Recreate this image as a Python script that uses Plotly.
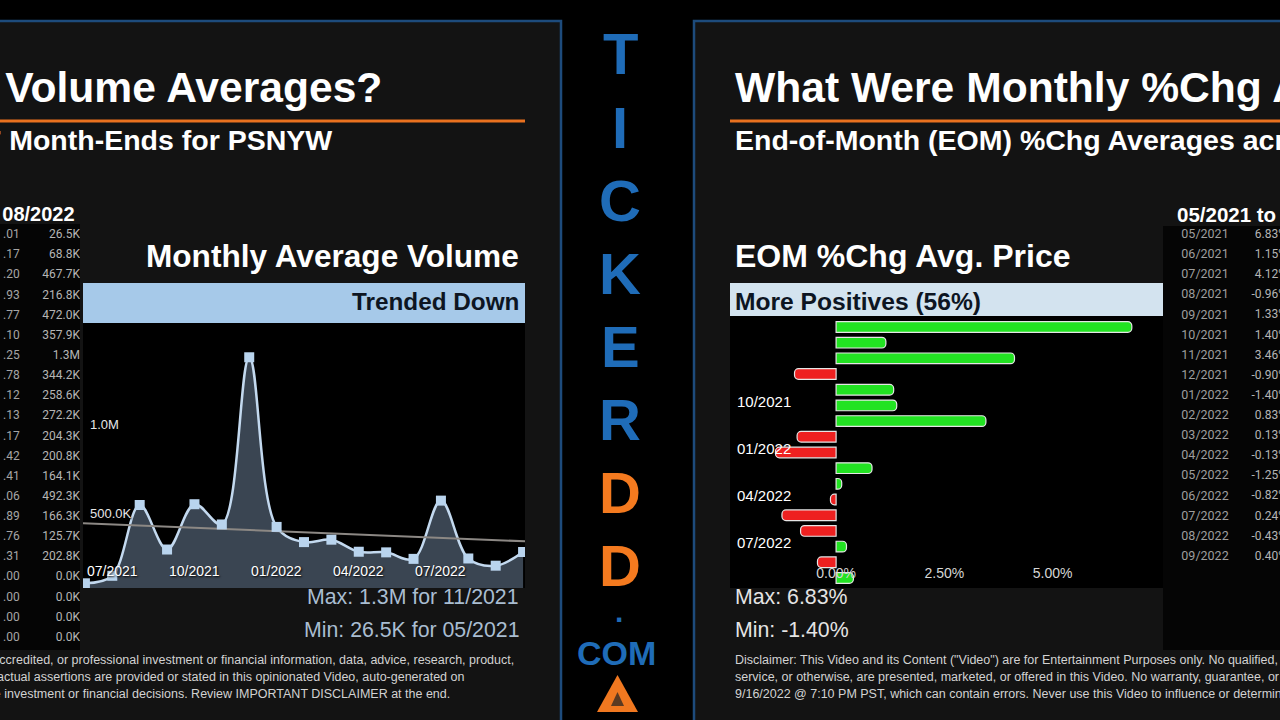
import numpy as np
import plotly.graph_objects as go

W, H = 1280, 720

# %% Daten
vol_months = ["05/2021", "06/2021", "07/2021", "08/2021", "09/2021", "10/2021", "11/2021",
              "12/2021", "01/2022", "02/2022", "03/2022", "04/2022", "05/2022", "06/2022",
              "07/2022", "08/2022", "09/2022"]
avg_volume = [26500, 68800, 467700, 216800, 472000, 357900, 1300000, 344200, 258600,
              272200, 204300, 200800, 164100, 492300, 166300, 125700, 202800]
vol_tick_idx = [1, 4, 7, 10, 13]
vol_tick_text = ["07/2021", "10/2021", "01/2022", "04/2022", "07/2022"]
vol_ytick_vals = [500000, 1000000]
vol_ytick_text = ["500.0K", "1.0M"]

pct_months = ["05/2021", "06/2021", "07/2021", "08/2021", "09/2021", "10/2021", "11/2021",
              "12/2021", "01/2022", "02/2022", "03/2022", "04/2022", "05/2022", "06/2022",
              "07/2022", "08/2022", "09/2022"]
pct_chg = [6.83, 1.15, 4.12, -0.96, 1.33, 1.40, 3.46, -0.90, -1.40, 0.83, 0.13, -0.13,
           -1.25, -0.82, 0.24, -0.43, 0.40]
pct_tick_months = ["10/2021", "01/2022", "04/2022", "07/2022"]
pct_xtick_vals = [0, 2.5, 5]
pct_xtick_text = ["0.00%", "2.50%", "5.00%"]

# linke Tabelle (abgeschnitten am Bildrand)
left_col1 = [".01", ".17", ".20", ".93", ".77", ".10", ".25", ".78", ".12", ".13", ".17",
             ".42", ".41", ".06", ".89", ".76", ".31", ".00", ".00", ".00", ".00"]
left_col2 = ["26.5K", "68.8K", "467.7K", "216.8K", "472.0K", "357.9K", "1.3M", "344.2K",
             "258.6K", "272.2K", "204.3K", "200.8K", "164.1K", "492.3K", "166.3K", "125.7K",
             "202.8K", "0.0K", "0.0K", "0.0K", "0.0K"]
right_col2 = ["%.2f%%" % v for v in pct_chg]

logo_letters = ["T", "I", "C", "K", "E", "R", "D", "D"]
logo_colors = ["#1f6cb8"] * 6 + ["#f47a1f"] * 2

disclaimer = [
    "Disclaimer: This Video and its Content (\"Video\") are for Entertainment Purposes only. No qualified, accredited, or professional investment or financial information, data, advice, research, product,",
    "service, or otherwise, are presented, marketed, or offered in this Video. No warranty, guarantee, or factual assertions are provided or stated in this opinionated Video, auto-generated on",
    "9/16/2022 @ 7:10 PM PST, which can contain errors. Never use this Video to influence or determine investment or financial decisions. Review IMPORTANT DISCLAIMER at the end.",
]


def px(x):
    return x / W


def py(y):
    return 1 - y / H


def fmt_vol(v):
    if v >= 1e6:
        return "%.1fM" % (v / 1e6)
    return "%.1fK" % (v / 1e3)


FONT = "Liberation Sans, Arial, sans-serif"
BLUE_LINE = "#1d4b7c"
ORANGE = "#e9711f"

fig = go.Figure()

# %% linkes Diagramm: Monthly Average Volume
x_idx = list(range(len(avg_volume)))
trend = np.polyval(np.polyfit(x_idx, avg_volume, 1), [-0.2, len(avg_volume) - 0.8])

fig.add_trace(go.Scatter(x=x_idx, y=avg_volume, mode="lines", line=dict(shape="spline", smoothing=1, color="#c3d9ef", width=2.5),
                         fill="tozeroy", fillcolor="#3a4552", xaxis="x", yaxis="y", showlegend=False))
fig.add_trace(go.Scatter(x=[-0.2, len(avg_volume) - 0.8], y=trend, mode="lines", line=dict(color="#8c8884", width=2),
                         xaxis="x", yaxis="y", showlegend=False))
fig.add_trace(go.Scatter(x=x_idx, y=avg_volume, mode="markers", marker=dict(symbol="square", size=10, color="#b9d4ee"),
                         xaxis="x", yaxis="y", showlegend=False))

# %% rechtes Diagramm: EOM %Chg
bar_colors = ["#22e322" if v >= 0 else "#ee2020" for v in pct_chg]
fig.add_trace(go.Bar(x=pct_chg, y=pct_months, orientation="h", marker=dict(color=bar_colors, line=dict(color="#e6e6e6", width=1.2)),
                     xaxis="x2", yaxis="y2", showlegend=False))

# %% Tabellen
row_idx = list(range(len(left_col2)))
tab_font = dict(family="Roboto, sans-serif", size=12, color="#b5b5b5")
fig.add_trace(go.Scatter(x=[3] * len(left_col1), y=row_idx, text=left_col1, mode="text", textposition="middle right",
                         textfont=dict(family="Roboto, sans-serif", size=12, color="#a5a5a5"), xaxis="x3", yaxis="y3", showlegend=False))
fig.add_trace(go.Scatter(x=[80] * len(left_col2), y=row_idx, text=left_col2, mode="text", textposition="middle left",
                         textfont=tab_font, xaxis="x3", yaxis="y3", showlegend=False))

r_idx = list(range(len(pct_months)))
fig.add_trace(go.Scatter(x=[42] * len(pct_months), y=r_idx, text=pct_months, mode="text", textposition="middle center",
                         textfont=dict(family="Roboto, sans-serif", size=12.5, color="#9e9e9e"), xaxis="x4", yaxis="y4", showlegend=False))
fig.add_trace(go.Scatter(x=[124] * len(right_col2), y=r_idx, text=right_col2, mode="text", textposition="middle left",
                         textfont=tab_font, xaxis="x4", yaxis="y4", showlegend=False))

# %% Hintergruende / Rahmen
shapes = [
    dict(type="rect", xref="paper", yref="paper", x0=px(-5), x1=px(561), y0=py(725), y1=py(21),
         fillcolor="#131313", line=dict(color=BLUE_LINE, width=2.5), layer="below"),
    dict(type="rect", xref="paper", yref="paper", x0=px(694), x1=px(1290), y0=py(725), y1=py(21),
         fillcolor="#131313", line=dict(color=BLUE_LINE, width=2.5), layer="below"),
    dict(type="rect", xref="paper", yref="paper", x0=px(0), x1=px(80), y0=py(650), y1=py(224),
         fillcolor="#050505", line_width=0, layer="below"),
    dict(type="rect", xref="paper", yref="paper", x0=px(1163), x1=px(1280), y0=py(650), y1=py(226),
         fillcolor="#050505", line_width=0, layer="below"),
    dict(type="rect", xref="paper", yref="paper", x0=px(83), x1=px(525), y0=py(588), y1=py(323),
         fillcolor="#000000", line_width=0, layer="below"),
    dict(type="rect", xref="paper", yref="paper", x0=px(730), x1=px(1163), y0=py(588), y1=py(316),
         fillcolor="#000000", line_width=0, layer="below"),
    # Banner
    dict(type="rect", xref="paper", yref="paper", x0=px(83), x1=px(525), y0=py(323), y1=py(283),
         fillcolor="#a6c9e9", line_width=0, layer="below"),
    dict(type="rect", xref="paper", yref="paper", x0=px(730), x1=px(1163), y0=py(316), y1=py(283),
         fillcolor="#d3e3ef", line_width=0, layer="below"),
    # orange Linien
    dict(type="line", xref="paper", yref="paper", x0=px(0), x1=px(525), y0=py(121), y1=py(121),
         line=dict(color=ORANGE, width=3)),
    dict(type="line", xref="paper", yref="paper", x0=px(730), x1=px(1285), y0=py(121), y1=py(121),
         line=dict(color=ORANGE, width=3)),
    # Logo Dreieck
    dict(type="path", xref="paper", yref="paper",
         path="M %f %f L %f %f L %f %f Z" % (px(597), py(712), px(638), py(712), px(617.5), py(675)),
         fillcolor="#f07820", line_width=0),
    dict(type="path", xref="paper", yref="paper",
         path="M %f %f L %f %f L %f %f Z" % (px(611), py(706), px(624), py(706), px(617.5), py(692)),
         fillcolor="#5a3a22", line_width=0),
]

# %% Texte
ann = []


def txt(x, y, text, size, color="white", anchor="left", bold=False, family=FONT):
    ann.append(dict(xref="paper", yref="paper", x=px(x), y=py(y), xanchor=anchor, yanchor="middle",
                    text="<b>%s</b>" % text if bold else text, showarrow=False,
                    font=dict(family=family, size=size, color=color)))


# linke Folie
txt(384, 87, "What Were Monthly Volume Averages?", 42.6, anchor="right", bold=True)
txt(334, 140, "End-of-Month (EOM) Volume Averages across 17 Month-Ends for PSNYW", 28.5, anchor="right", bold=True)
txt(77, 214, "05/2021 to 08/2022", 20, anchor="right", bold=True)
txt(521, 256, "Monthly Average Volume", 31.6, anchor="right", bold=True)
txt(521, 301, "Trended Down", 24.3, color="#0d1522", anchor="right", bold=True)
imax = int(np.argmax(avg_volume))
imin = int(np.argmin(avg_volume))
txt(521, 597, "Max: %s for %s" % (fmt_vol(avg_volume[imax]), vol_months[imax]), 21.3, color="#a9bdd1", anchor="right")
txt(521, 630, "Min: %s for %s" % (fmt_vol(avg_volume[imin]), vol_months[imin]), 21.3, color="#a9bdd1", anchor="right")
left_ends = [516, 466, 452]
for i, line in enumerate(disclaimer):
    txt(left_ends[i], 660 + 17 * i, line, 12.5, color="#d2d2d2", anchor="right")

# x-Achsenbeschriftung links (im Diagramm)
for t, lab in zip(vol_tick_idx, vol_tick_text):
    ann.append(dict(xref="x", yref="paper", x=t, y=py(571), xanchor="center", yanchor="middle", text=lab,
                    showarrow=False, font=dict(family=FONT, size=14, color="white", shadow="1px 1px 2px black")))

# rechte Folie
txt(733, 87, "What Were Monthly %Chg Averages?", 42.6, bold=True)
txt(733, 140, "End-of-Month (EOM) %Chg Averages across 17 Month-Ends for PSNYW", 28.5, bold=True)
txt(1175, 214, "05/2021 to 09/2022", 20.5, bold=True)
txt(733, 256, "EOM %Chg Avg. Price", 32, bold=True)
txt(733, 301, "More Positives (56%)", 24.6, color="#0d1522", bold=True)
txt(733, 597, "Max: %.2f%%" % max(pct_chg), 21.3, color="#e4e4e4")
txt(733, 630, "Min: %.2f%%" % min(pct_chg), 21.3, color="#e4e4e4")
for i, line in enumerate(disclaimer):
    txt(733, 660 + 17 * i, line, 12.5, color="#d2d2d2")

# TICKERDD.COM
for i, (ch, col) in enumerate(zip(logo_letters, logo_colors)):
    txt(620, 54 + 73 * i, ch, 58, color=col, anchor="center", bold=True)
txt(619, 611, ".", 30, color="#1f6cb8", anchor="center", bold=True)
txt(616, 653, "COM", 34, color="#1f6cb8", anchor="center", bold=True)

# %% Layout
fig.update_layout(
    width=W, height=H, margin=dict(l=0, r=0, t=0, b=0),
    paper_bgcolor="#000000", plot_bgcolor="rgba(0,0,0,0)",
    shapes=shapes, annotations=ann, bargap=0.32, barcornerradius=4,
    xaxis=dict(domain=[px(83), px(525)], anchor="y", range=[-0.07, len(avg_volume) - 0.93], showgrid=False, zeroline=False,
               showticklabels=False, ticks=""),
    yaxis=dict(domain=[py(588), py(323)], anchor="x", range=[0, 1.493e6], showgrid=False, zeroline=False,
               tickmode="array", tickvals=vol_ytick_vals, ticktext=vol_ytick_text, ticklabelposition="inside",
               ticklabelshift=14, ticklabelstandoff=4, ticks="",
               tickfont=dict(family=FONT, size=13, color="#e6e6e6", shadow="1px 1px 2px black")),
    xaxis2=dict(domain=[px(730), px(1163)], anchor="y2", range=[-2.45, 7.55], showgrid=False, zeroline=False,
                tickmode="array", tickvals=pct_xtick_vals, ticktext=pct_xtick_text,
                ticklabelposition="inside", ticklabelstandoff=4, ticks="",
                tickfont=dict(family=FONT, size=14, color="#d6d6d6")),
    yaxis2=dict(domain=[py(588), py(316)], anchor="x2", type="category", categoryorder="array", categoryarray=pct_months,
                range=[len(pct_months) - 0.36, -0.7], showgrid=False, zeroline=False,
                tickmode="array", tickvals=pct_tick_months, ticktext=pct_tick_months, ticklabelposition="inside",
                ticklabelstandoff=4, ticklabelshift=4, ticks="",
                tickfont=dict(family=FONT, size=15, color="white")),
    xaxis3=dict(domain=[0, px(80)], anchor="y3", range=[0, 80], visible=False),
    yaxis3=dict(domain=[py(650), py(224)], anchor="x3", range=[len(left_col2) - 0.4, -0.55], visible=False),
    xaxis4=dict(domain=[px(1163), 1], anchor="y4", range=[0, 117], visible=False),
    yaxis4=dict(domain=[py(650), py(226)], anchor="x4", range=[20.64, -0.45], visible=False),
)

fig.write_html("out.html", config={"displayModeBar": False},
               post_script="document.body.style.margin='0';")
